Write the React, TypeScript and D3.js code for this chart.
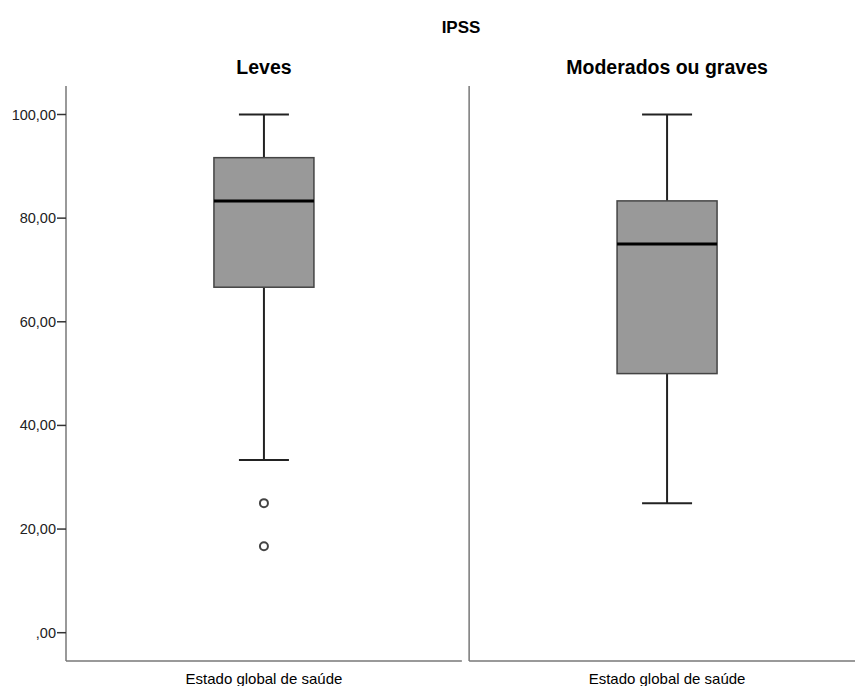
import React from "react";
import * as d3 from "d3";

const title = "IPSS";
const panels = ["Leves", "Moderados ou graves"];
const categoryLabel = "Estado global de saúde";
const whiskerLow = [33.33, 25];
const q1 = [66.67, 50];
const median = [83.33, 75];
const q3 = [91.67, 83.33];
const whiskerHigh = [100, 100];
const outliers = [[25, 16.67], []];
const yTicks = [0, 20, 40, 60, 80, 100];
const fmt = (v: number) => (v === 0 ? ",00" : v.toFixed(2).replace(".", ","));

export default function App() {
  const W = 855, H = 686;
  const y = d3.scaleLinear().domain([0, 100]).range([632.7, 114.5]);
  const panelX = d3.scaleBand<string>().domain(panels).range([66, 865]).paddingInner(0.018);
  const top = 86, bottom = 661;
  const font = "Arial, 'Liberation Sans', sans-serif";
  const boxW = 100, capW = 50;
  return (
    <svg width={W} height={H} style={{ position: "absolute", left: 0, top: 0 }} fontFamily={font}>
      <rect width={W} height={H} fill="#fff" />
      <text x={461} y={33} textAnchor="middle" fontWeight="bold" fontSize={17} fill="#000">{title}</text>
      {panels.map((p, i) => {
        const x0 = panelX(p)!;
        const w = panelX.bandwidth();
        const cx = x0 + w / 2;
        return (
          <g key={p}>
            <text x={cx} y={74} textAnchor="middle" fontWeight="bold" fontSize={19.5} fill="#000">{p}</text>
            <line x1={x0} x2={x0} y1={top} y2={bottom} stroke="#777" strokeWidth={1.5} />
            <line x1={x0} x2={x0 + w} y1={bottom} y2={bottom} stroke="#777" strokeWidth={1.5} />
            <text x={cx} y={684} textAnchor="middle" fontSize={15} fill="#000">{categoryLabel}</text>
            <line x1={cx} x2={cx} y1={y(whiskerHigh[i])} y2={y(q3[i])} stroke="#222" strokeWidth={2} />
            <line x1={cx} x2={cx} y1={y(q1[i])} y2={y(whiskerLow[i])} stroke="#222" strokeWidth={2} />
            <line x1={cx - capW / 2} x2={cx + capW / 2} y1={y(whiskerHigh[i])} y2={y(whiskerHigh[i])} stroke="#222" strokeWidth={2} />
            <line x1={cx - capW / 2} x2={cx + capW / 2} y1={y(whiskerLow[i])} y2={y(whiskerLow[i])} stroke="#222" strokeWidth={2} />
            <rect x={cx - boxW / 2} y={y(q3[i])} width={boxW} height={y(q1[i]) - y(q3[i])} fill="#999" stroke="#444" strokeWidth={1.5} />
            <line x1={cx - boxW / 2} x2={cx + boxW / 2} y1={y(median[i])} y2={y(median[i])} stroke="#000" strokeWidth={3} />
            {outliers[i].map((o, j) => (
              <circle key={j} cx={cx} cy={y(o)} r={4} fill="#fff" stroke="#444" strokeWidth={2} />
            ))}
          </g>
        );
      })}
      {yTicks.map((t) => (
        <g key={t}>
          <line x1={57} x2={66} y1={y(t)} y2={y(t)} stroke="#333" strokeWidth={1.5} />
          <text x={56} y={y(t) + 5} textAnchor="end" fontSize={14.5} fill="#222">{fmt(t)}</text>
        </g>
      ))}
    </svg>
  );
}
